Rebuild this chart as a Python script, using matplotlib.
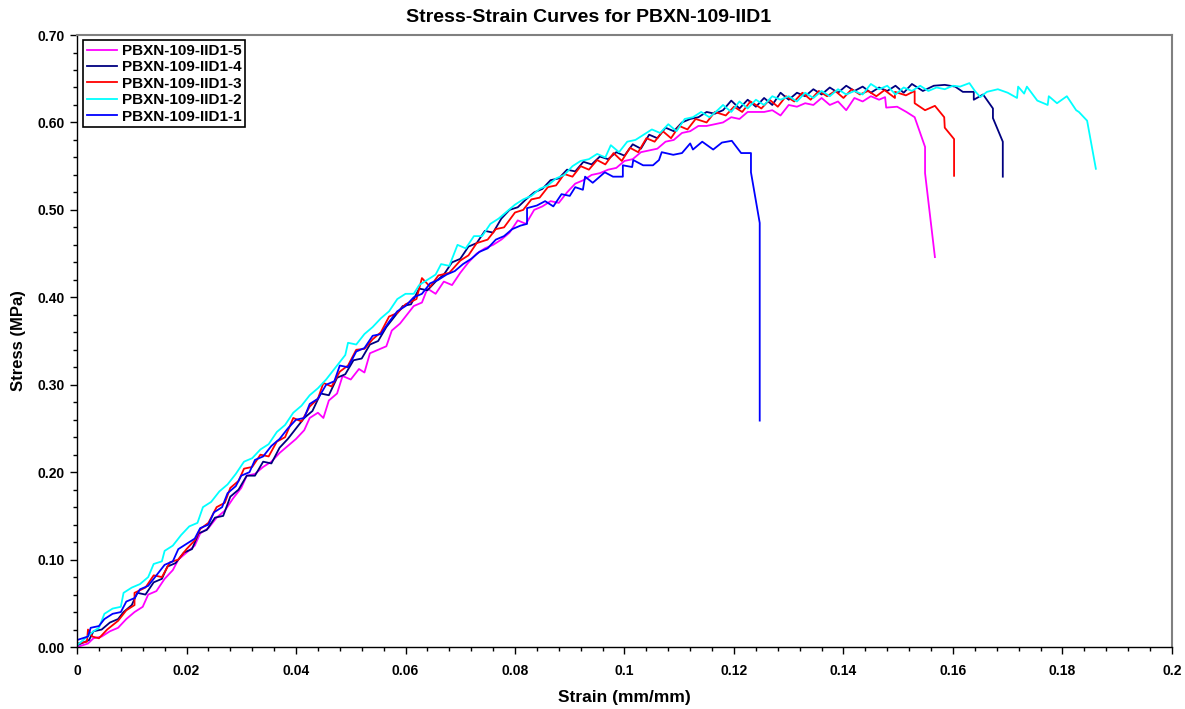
import matplotlib
matplotlib.use("Agg")
import matplotlib.pyplot as plt
from matplotlib.ticker import MultipleLocator, FuncFormatter

plt.rcParams['font.family'] = ['Liberation Sans', 'DejaVu Sans']

labels = ["PBXN-109-IID1-5", "PBXN-109-IID1-4", "PBXN-109-IID1-3",
          "PBXN-109-IID1-2", "PBXN-109-IID1-1"]
colors = ["#FF00FF", "#000080", "#FF0000", "#00FFFF", "#0000FF"]

# ---- IID1-5 (magenta)
strain5 = [0.0000, 0.0020, 0.0030, 0.0045, 0.0060, 0.0075, 0.0090, 0.0105, 0.0120, 0.0130,
           0.0145, 0.0160, 0.0175, 0.0185, 0.0200, 0.0215, 0.0225, 0.0240, 0.0255, 0.0270,
           0.0285, 0.0300, 0.0310, 0.0325, 0.0340, 0.0355, 0.0370, 0.0385, 0.0400, 0.0415,
           0.0425, 0.0440, 0.0450, 0.0460, 0.0475, 0.0485, 0.0500, 0.0515, 0.0525, 0.0535,
           0.0550, 0.0565, 0.0575, 0.0590, 0.0600, 0.0615, 0.0630, 0.0640, 0.0655, 0.0670,
           0.0685, 0.0700, 0.0715, 0.0730, 0.0745, 0.0760, 0.0775, 0.0790, 0.0805, 0.0820,
           0.0835, 0.0850, 0.0865, 0.0880, 0.0895, 0.0910, 0.0925, 0.0940, 0.0955, 0.0970,
           0.0985, 0.1000, 0.1015, 0.1030, 0.1045, 0.1060, 0.1075, 0.1090, 0.1105, 0.1120,
           0.1135, 0.1150, 0.1165, 0.1180, 0.1195, 0.1210, 0.1225, 0.1240, 0.1255, 0.1270,
           0.1285, 0.1300, 0.1315, 0.1330, 0.1345, 0.1360, 0.1375, 0.1390, 0.1405, 0.1420,
           0.1435, 0.1450, 0.1465, 0.1476, 0.1478, 0.1498, 0.1515, 0.1530, 0.1549, 0.1549,
           0.1567]
stress5 = [0.000, 0.004, 0.010, 0.012, 0.018, 0.022, 0.032, 0.040, 0.046, 0.060,
           0.064, 0.078, 0.088, 0.100, 0.108, 0.116, 0.130, 0.136, 0.148, 0.156,
           0.170, 0.182, 0.196, 0.198, 0.206, 0.212, 0.222, 0.230, 0.238, 0.248,
           0.262, 0.268, 0.262, 0.282, 0.290, 0.310, 0.306, 0.318, 0.314, 0.336,
           0.340, 0.344, 0.362, 0.370, 0.378, 0.390, 0.394, 0.410, 0.404, 0.418,
           0.414, 0.428, 0.440, 0.450, 0.456, 0.460, 0.466, 0.474, 0.488, 0.484,
           0.500, 0.504, 0.510, 0.508, 0.520, 0.530, 0.534, 0.540, 0.542, 0.546,
           0.548, 0.556, 0.558, 0.566, 0.568, 0.570, 0.578, 0.580, 0.588, 0.590,
           0.596, 0.596, 0.598, 0.600, 0.606, 0.604, 0.612, 0.612, 0.612, 0.614,
           0.608, 0.620, 0.618, 0.622, 0.620, 0.628, 0.620, 0.624, 0.614, 0.628,
           0.624, 0.630, 0.626, 0.629, 0.617, 0.618, 0.612, 0.606, 0.572, 0.542,
           0.446]

# ---- IID1-4 (navy)
strain4 = [0.0000, 0.0022, 0.0030, 0.0045, 0.0060, 0.0075, 0.0085, 0.0100, 0.0110, 0.0125,
           0.0140, 0.0155, 0.0165, 0.0180, 0.0195, 0.0210, 0.0222, 0.0237, 0.0252, 0.0267,
           0.0280, 0.0295, 0.0310, 0.0325, 0.0340, 0.0355, 0.0370, 0.0385, 0.0400, 0.0415,
           0.0430, 0.0445, 0.0460, 0.0475, 0.0490, 0.0505, 0.0520, 0.0535, 0.0550, 0.0565,
           0.0580, 0.0595, 0.0610, 0.0625, 0.0640, 0.0655, 0.0670, 0.0685, 0.0700, 0.0715,
           0.0730, 0.0745, 0.0760, 0.0775, 0.0790, 0.0805, 0.0820, 0.0835, 0.0850, 0.0865,
           0.0880, 0.0895, 0.0910, 0.0925, 0.0940, 0.0955, 0.0970, 0.0985, 0.1000, 0.1015,
           0.1030, 0.1045, 0.1060, 0.1075, 0.1090, 0.1105, 0.1120, 0.1135, 0.1150, 0.1165,
           0.1180, 0.1195, 0.1210, 0.1225, 0.1240, 0.1255, 0.1270, 0.1285, 0.1300, 0.1315,
           0.1330, 0.1345, 0.1360, 0.1375, 0.1390, 0.1405, 0.1420, 0.1435, 0.1450, 0.1465,
           0.1480, 0.1495, 0.1510, 0.1525, 0.1545, 0.1565, 0.1585, 0.1604, 0.1618, 0.1638,
           0.1638, 0.1655, 0.1673, 0.1673, 0.1691, 0.1691]
stress4 = [0.002, 0.008, 0.018, 0.020, 0.028, 0.032, 0.040, 0.048, 0.062, 0.060,
           0.074, 0.078, 0.092, 0.096, 0.108, 0.112, 0.130, 0.134, 0.148, 0.150,
           0.172, 0.180, 0.196, 0.196, 0.212, 0.210, 0.228, 0.238, 0.250, 0.262,
           0.270, 0.290, 0.288, 0.308, 0.312, 0.328, 0.330, 0.346, 0.350, 0.366,
           0.378, 0.390, 0.392, 0.410, 0.408, 0.418, 0.426, 0.440, 0.444, 0.458,
           0.462, 0.476, 0.474, 0.490, 0.500, 0.503, 0.512, 0.520, 0.524, 0.534,
           0.536, 0.546, 0.544, 0.555, 0.552, 0.561, 0.558, 0.566, 0.562, 0.575,
           0.570, 0.586, 0.582, 0.594, 0.590, 0.600, 0.604, 0.606, 0.612, 0.610,
           0.614, 0.625, 0.616, 0.626, 0.618, 0.628, 0.620, 0.634, 0.626, 0.634,
           0.630, 0.638, 0.632, 0.640, 0.634, 0.642, 0.636, 0.641, 0.634, 0.640,
           0.636, 0.642, 0.634, 0.644, 0.636, 0.642, 0.643, 0.641, 0.635, 0.635,
           0.626, 0.632, 0.616, 0.605, 0.578, 0.538]

# ---- IID1-3 (red)
strain3 = [0.0000, 0.0018, 0.0020, 0.0028, 0.0040, 0.0055, 0.0075, 0.0090, 0.0105, 0.0105,
           0.0125, 0.0140, 0.0155, 0.0170, 0.0185, 0.0200, 0.0215, 0.0225, 0.0240, 0.0255,
           0.0270, 0.0280, 0.0295, 0.0305, 0.0320, 0.0335, 0.0350, 0.0365, 0.0380, 0.0395,
           0.0410, 0.0425, 0.0440, 0.0450, 0.0465, 0.0480, 0.0495, 0.0510, 0.0525, 0.0540,
           0.0555, 0.0570, 0.0585, 0.0600, 0.0620, 0.0630, 0.0645, 0.0660, 0.0680, 0.0700,
           0.0715, 0.0730, 0.0750, 0.0765, 0.0780, 0.0800, 0.0815, 0.0830, 0.0845, 0.0860,
           0.0875, 0.0890, 0.0905, 0.0920, 0.0935, 0.0950, 0.0965, 0.0980, 0.0995, 0.1010,
           0.1025, 0.1040, 0.1055, 0.1070, 0.1085, 0.1100, 0.1115, 0.1130, 0.1150, 0.1165,
           0.1185, 0.1200, 0.1215, 0.1230, 0.1250, 0.1265, 0.1280, 0.1295, 0.1310, 0.1325,
           0.1340, 0.1355, 0.1370, 0.1385, 0.1400, 0.1415, 0.1430, 0.1445, 0.1460, 0.1475,
           0.1494, 0.1494, 0.1514, 0.1530, 0.1530, 0.1549, 0.1567, 0.1584, 0.1585, 0.1602,
           0.1602]
stress3 = [0.004, 0.006, 0.020, 0.012, 0.010, 0.020, 0.030, 0.042, 0.048, 0.062,
           0.068, 0.082, 0.080, 0.097, 0.100, 0.112, 0.122, 0.135, 0.142, 0.160,
           0.165, 0.182, 0.190, 0.204, 0.206, 0.220, 0.218, 0.235, 0.240, 0.262,
           0.258, 0.275, 0.284, 0.302, 0.298, 0.315, 0.322, 0.340, 0.341, 0.352,
           0.360, 0.378, 0.382, 0.392, 0.398, 0.422, 0.412, 0.425, 0.428, 0.442,
           0.448, 0.462, 0.466, 0.478, 0.480, 0.497, 0.500, 0.512, 0.514, 0.526,
           0.528, 0.541, 0.538, 0.550, 0.546, 0.557, 0.552, 0.565, 0.556, 0.571,
           0.566, 0.582, 0.578, 0.590, 0.582, 0.596, 0.592, 0.604, 0.600, 0.612,
           0.608, 0.618, 0.612, 0.624, 0.616, 0.626, 0.618, 0.630, 0.624, 0.634,
           0.626, 0.636, 0.630, 0.636, 0.628, 0.638, 0.632, 0.636, 0.630, 0.637,
           0.628, 0.635, 0.631, 0.636, 0.622, 0.614, 0.619, 0.606, 0.594, 0.581,
           0.539]

# ---- IID1-2 (cyan)
strain2 = [0.0000, 0.0015, 0.0030, 0.0040, 0.0050, 0.0065, 0.0080, 0.0085, 0.0100, 0.0115,
           0.0130, 0.0140, 0.0155, 0.0160, 0.0175, 0.0190, 0.0205, 0.0220, 0.0230, 0.0245,
           0.0260, 0.0275, 0.0290, 0.0305, 0.0320, 0.0335, 0.0350, 0.0365, 0.0380, 0.0395,
           0.0410, 0.0425, 0.0440, 0.0455, 0.0470, 0.0480, 0.0490, 0.0495, 0.0510, 0.0525,
           0.0540, 0.0555, 0.0570, 0.0585, 0.0600, 0.0615, 0.0625, 0.0640, 0.0655, 0.0665,
           0.0680, 0.0695, 0.0710, 0.0725, 0.0740, 0.0755, 0.0770, 0.0785, 0.0800, 0.0815,
           0.0830, 0.0845, 0.0860, 0.0875, 0.0890, 0.0905, 0.0920, 0.0935, 0.0950, 0.0965,
           0.0975, 0.0990, 0.1005, 0.1020, 0.1035, 0.1050, 0.1065, 0.1080, 0.1095, 0.1110,
           0.1125, 0.1140, 0.1155, 0.1170, 0.1180, 0.1195, 0.1210, 0.1225, 0.1240, 0.1255,
           0.1270, 0.1285, 0.1300, 0.1315, 0.1330, 0.1345, 0.1360, 0.1375, 0.1390, 0.1405,
           0.1420, 0.1435, 0.1450, 0.1465, 0.1480, 0.1495, 0.1510, 0.1525, 0.1540, 0.1555,
           0.1570, 0.1585, 0.1600, 0.1613, 0.1630, 0.1640, 0.1650, 0.1662, 0.1682, 0.1700,
           0.1717, 0.1719, 0.1730, 0.1735, 0.1754, 0.1773, 0.1775, 0.1790, 0.1808, 0.1825,
           0.1830, 0.1845, 0.1861]
stress2 = [0.002, 0.010, 0.018, 0.022, 0.038, 0.044, 0.046, 0.062, 0.068, 0.072,
           0.080, 0.095, 0.098, 0.110, 0.116, 0.128, 0.138, 0.142, 0.160, 0.166,
           0.178, 0.186, 0.198, 0.212, 0.216, 0.226, 0.232, 0.246, 0.254, 0.268,
           0.276, 0.288, 0.296, 0.306, 0.318, 0.326, 0.334, 0.348, 0.346, 0.358,
           0.366, 0.376, 0.384, 0.398, 0.404, 0.404, 0.414, 0.420, 0.426, 0.438,
           0.436, 0.460, 0.456, 0.470, 0.470, 0.484, 0.490, 0.498, 0.506, 0.512,
           0.516, 0.524, 0.528, 0.536, 0.540, 0.550, 0.556, 0.558, 0.564, 0.560,
           0.574, 0.566, 0.578, 0.580, 0.586, 0.592, 0.588, 0.598, 0.590, 0.604,
           0.606, 0.612, 0.606, 0.614, 0.620, 0.612, 0.624, 0.616, 0.626, 0.620,
           0.630, 0.626, 0.630, 0.624, 0.634, 0.628, 0.636, 0.630, 0.638, 0.632,
           0.636, 0.632, 0.644, 0.638, 0.642, 0.632, 0.640, 0.636, 0.642, 0.636,
           0.640, 0.638, 0.642, 0.641, 0.645, 0.636, 0.629, 0.635, 0.638, 0.634,
           0.628, 0.641, 0.633, 0.641, 0.625, 0.620, 0.630, 0.622, 0.630, 0.614,
           0.612, 0.602, 0.547]

# ---- IID1-1 (blue)
strain1 = [0.0000, 0.0020, 0.0025, 0.0040, 0.0050, 0.0065, 0.0080, 0.0090, 0.0105, 0.0115,
           0.0130, 0.0145, 0.0160, 0.0175, 0.0185, 0.0200, 0.0215, 0.0225, 0.0240, 0.0250,
           0.0265, 0.0275, 0.0290, 0.0300, 0.0315, 0.0325, 0.0340, 0.0355, 0.0370, 0.0385,
           0.0400, 0.0415, 0.0425, 0.0440, 0.0455, 0.0470, 0.0480, 0.0495, 0.0510, 0.0525,
           0.0540, 0.0555, 0.0570, 0.0585, 0.0600, 0.0615, 0.0630, 0.0645, 0.0660, 0.0675,
           0.0690, 0.0705, 0.0720, 0.0735, 0.0750, 0.0765, 0.0780, 0.0795, 0.0810, 0.0822,
           0.0822, 0.0840, 0.0855, 0.0870, 0.0885, 0.0900, 0.0910, 0.0924, 0.0928, 0.0942,
           0.0964, 0.0979, 0.0997, 0.0997, 0.1014, 0.1016, 0.1034, 0.1052, 0.1063, 0.1068,
           0.1089, 0.1105, 0.1120, 0.1125, 0.1142, 0.1162, 0.1178, 0.1196, 0.1213, 0.1231,
           0.1231, 0.1247, 0.1247]
stress1 = [0.008, 0.012, 0.022, 0.024, 0.032, 0.038, 0.040, 0.052, 0.056, 0.066,
           0.070, 0.082, 0.094, 0.098, 0.112, 0.118, 0.124, 0.136, 0.140, 0.154,
           0.160, 0.176, 0.184, 0.196, 0.200, 0.214, 0.218, 0.230, 0.238, 0.250,
           0.260, 0.262, 0.278, 0.284, 0.300, 0.304, 0.322, 0.320, 0.338, 0.342,
           0.356, 0.358, 0.372, 0.384, 0.390, 0.400, 0.404, 0.416, 0.420, 0.426,
           0.430, 0.438, 0.444, 0.452, 0.456, 0.466, 0.470, 0.478, 0.482, 0.484,
           0.502, 0.505, 0.510, 0.504, 0.518, 0.516, 0.526, 0.523, 0.538, 0.531,
           0.543, 0.538, 0.538, 0.551, 0.549, 0.557, 0.551, 0.551, 0.557, 0.566,
           0.563, 0.565, 0.576, 0.569, 0.578, 0.569, 0.577, 0.579, 0.565, 0.565,
           0.543, 0.485, 0.259]

series = [(strain5, stress5), (strain4, stress4), (strain3, stress3),
          (strain2, stress2), (strain1, stress1)]

fig = plt.figure(figsize=(11.85, 7.09), dpi=100)
ax = fig.add_axes([0.065, 0.0874, 0.924, 0.8632])

for (x, y), c, lab in zip(series, colors, labels):
    ax.plot(x, y, color=c, lw=1.3, label=lab)

ax.set_xlim(0, 0.2)
ax.set_ylim(0, 0.7)
ax.xaxis.set_major_locator(MultipleLocator(0.02))
ax.xaxis.set_minor_locator(MultipleLocator(0.004))
ax.yaxis.set_major_locator(MultipleLocator(0.1))
ax.yaxis.set_minor_locator(MultipleLocator(0.02))

def xfmt(v, pos):
    s = f"{v:.2f}".rstrip('0').rstrip('.')
    return s if s else "0"
ax.xaxis.set_major_formatter(FuncFormatter(xfmt))
ax.yaxis.set_major_formatter(FuncFormatter(lambda v, p: f"{v:.2f}"))

ax.tick_params(axis='both', which='major', direction='out', length=5, width=1,
               labelsize=10)
ax.tick_params(axis='both', which='minor', direction='out', length=3, width=1)
ax.tick_params(axis='x', which='major', pad=7)
ax.tick_params(axis='y', which='major', pad=4)
for lbl in ax.get_xticklabels() + ax.get_yticklabels():
    lbl.set_fontweight('bold')

for s in ['top', 'right']:
    ax.spines[s].set_color('#808080')
    ax.spines[s].set_linewidth(1.5)
for s in ['left', 'bottom']:
    ax.spines[s].set_color('black')
    ax.spines[s].set_linewidth(1.0)

fig.text(0.497, 0.976, "Stress-Strain Curves for PBXN-109-IID1", fontsize=14,
         fontweight='bold', ha='center', va='center')
ax.set_xlabel("Strain (mm/mm)", fontsize=12.5, fontweight='bold', labelpad=9)
ax.set_ylabel("Stress (MPa)", fontsize=12, fontweight='bold', labelpad=8)

leg = ax.legend(loc='upper left', bbox_to_anchor=(0.0055, 0.9918),
                prop={'weight': 'bold', 'size': 11}, fancybox=False,
                edgecolor='black', framealpha=1, handlelength=2.0,
                borderpad=0.25, labelspacing=0.16, handletextpad=0.3,
                borderaxespad=0.0)
leg.get_frame().set_linewidth(1.2)

fig.savefig("out.png", dpi=100)
